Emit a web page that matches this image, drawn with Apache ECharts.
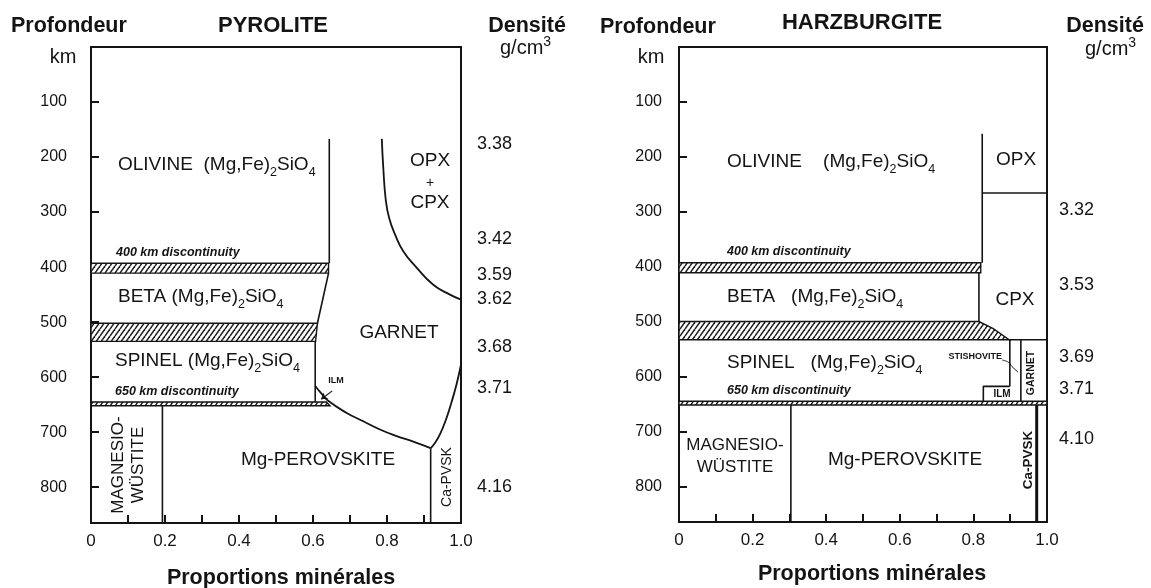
<!DOCTYPE html>
<html>
<head>
<meta charset="utf-8">
<script src="https://cdn.jsdelivr.net/npm/echarts@6/dist/echarts.min.js"></script>
<style>
  html, body { margin: 0; padding: 0; background: #fff; }
  #chart { width: 1151px; height: 588px; }
</style>
</head>
<body>
<div id="chart"></div>
<script>
// ---- shared scales -------------------------------------------------------
const depthMax = 865;                                   // km at the bottom of each column
const depthTicks = [100, 200, 300, 400, 500, 600, 700, 800];
const proportionTickValues = [0, 0.2, 0.4, 0.6, 0.8, 1.0];
const proportionTickLabels = ['0', '0.2', '0.4', '0.6', '0.8', '1.0'];

// ---- PYROLITE column (proportion, depth km) -------------------------------
const pyrDensityLabels = ['3.38', '3.42', '3.59', '3.62', '3.68', '3.71', '4.16'];
const pyrDensityDepths = [177, 349, 415, 458, 546, 620, 800];
const pyrBand400 = [[0, 393], [0.642, 393], [0.642, 411], [0, 411]];
const pyrBand500 = [[0, 502], [0.612, 502], [0.607, 535], [0, 535]];
const pyrBand650 = [[0, 645], [0.636, 645], [0.646, 652], [0, 652]];
const pyrOlivineEdge = [[0.644, 167], [0.644, 393]];
const pyrBetaEdge = [[0.642, 411], [0.612, 502]];
const pyrSpinelEdge = [[0.606, 535], [0.606, 645]];
const pyrOpxCpxCurve = [[0.786, 167], [0.790, 220], [0.797, 280], [0.806, 311], [0.822, 341],
  [0.844, 371], [0.880, 401], [0.925, 432], [0.970, 450], [1.0, 459]];
const pyrGarnetPvCurve = [[0.606, 616], [0.623, 630], [0.641, 643], [0.691, 665], [0.736, 680],
  [0.781, 695], [0.826, 707], [0.871, 717], [0.918, 729]];
const pyrGarnetCaPvCurve = [[0.918, 729], [0.927, 722], [0.943, 704], [0.961, 674], [0.975, 644],
  [0.988, 613], [1.0, 577]];
const pyrCaPvEdge = [[0.918, 729], [0.918, depthMax]];
const pyrMwEdge = [[0.193, 652], [0.193, depthMax]];
const pyrIlmArrow = [[0.652, 625], [0.622, 640]];

// ---- HARZBURGITE column ---------------------------------------------------
const harDensityLabels = ['3.32', '3.53', '3.69', '3.71', '4.10'];
const harDensityDepths = [297, 434, 564, 622, 713];
const harBand400 = [[0, 393], [0.82, 393], [0.82, 411], [0, 411]];
const harBand500 = [[0, 500], [0.815, 500], [0.854, 513], [0.897, 533], [0, 533]];
const harBand650 = [[0, 645], [1, 645], [1, 652], [0, 652]];
const harOlivineEdge = [[0.824, 158], [0.824, 393]];
const harOpxCpxEdge = [[0.824, 266], [1, 266]];
const harBetaEdge = [[0.815, 411], [0.815, 500]];
const harCpxGarnetEdge = [[0.897, 533], [1, 533]];
const harStishoviteEdge = [[0.899, 533], [0.899, 618]];
const harGarnetEdge = [[0.929, 533], [0.929, 645]];
const harIlmEdge = [[0.827, 645], [0.827, 618], [0.899, 618]];
const harMwEdge = [[0.304, 652], [0.304, depthMax]];
const harCaPvEdge = [[0.972, 652], [0.972, depthMax]];
const harStishoviteLeader = [[0.878, 570], [0.895, 574], [0.905, 582], [0.921, 592]];

// ---- styling --------------------------------------------------------------
const FONT = '"Liberation Sans", Arial, Helvetica, sans-serif';
const INK = '#141414';

// diagonal hatching used for the transition zones
function makeHatch() {
  const c = document.createElement('canvas');
  c.width = 5; c.height = 7;
  const g = c.getContext('2d');
  g.fillStyle = '#ffffff';
  g.fillRect(0, 0, 5, 7);
  g.strokeStyle = '#1c1c1c';
  g.lineWidth = 1.45;
  [-5, 0, 5].forEach(x0 => {
    g.beginPath(); g.moveTo(x0, 7); g.lineTo(x0 + 5, 0); g.stroke();
  });
  return c;
}
const hatch = { image: makeHatch(), repeat: 'repeat' };

const panels = [
  {
    box: { left: 91, top: 47, width: 370, height: 476 },
    depthMargin: 24, densityMargin: 16,
    densityLabels: pyrDensityLabels, densityDepths: pyrDensityDepths,
    bands: [pyrBand400, pyrBand500, pyrBand650],
    edges: [pyrOlivineEdge, pyrBetaEdge, pyrSpinelEdge, pyrCaPvEdge, pyrMwEdge],
    curves: [pyrOpxCpxCurve, pyrGarnetPvCurve, pyrGarnetCaPvCurve],
    thick: []
  },
  {
    box: { left: 679, top: 47, width: 368, height: 475 },
    depthMargin: 17, densityMargin: 12,
    densityLabels: harDensityLabels, densityDepths: harDensityDepths,
    bands: [harBand400, harBand500, harBand650],
    edges: [harOlivineEdge, harOpxCpxEdge, harBetaEdge, harCpxGarnetEdge, harStishoviteEdge,
      harGarnetEdge, harIlmEdge, harMwEdge],
    curves: [],
    thick: [harCaPvEdge]
  }
];

function proportionLabel(v) {
  const k = proportionTickValues.findIndex(t => Math.abs(t - v) < 1e-6);
  return k < 0 ? '' : proportionTickLabels[k];
}

const grids = [], xAxes = [], yAxes = [], series = [];
panels.forEach((p, i) => {
  grids.push(Object.assign({ show: true, borderColor: INK, borderWidth: 2,
    backgroundColor: 'transparent', containLabel: false, outerBoundsMode: 'none' }, p.box));

  xAxes.push({
    type: 'value', gridIndex: i, min: 0, max: 1, interval: 0.1,
    axisLine: { show: true, onZero: false, lineStyle: { color: INK, width: 2 } },
    axisTick: { show: true, inside: true, length: 8, lineStyle: { color: INK, width: 2 } },
    axisLabel: { margin: 10, fontSize: 17, color: INK, fontFamily: FONT, formatter: proportionLabel },
    splitLine: { show: false }
  });

  const depthIdx = yAxes.length;
  yAxes.push({
    type: 'value', gridIndex: i, position: 'left', min: 0, max: depthMax, interval: 100, inverse: true,
    axisLine: { show: true, onZero: false, lineStyle: { color: INK, width: 2 } },
    axisTick: { show: true, inside: true, length: 8, lineStyle: { color: INK, width: 2 } },
    axisLabel: { margin: p.depthMargin, fontSize: 16, color: INK, fontFamily: FONT,
      formatter: v => depthTicks.includes(v) ? String(v) : '' },
    splitLine: { show: false }
  });
  yAxes.push({
    type: 'value', gridIndex: i, position: 'right', min: 0, max: depthMax, inverse: true,
    axisLine: { show: false }, axisTick: { show: false }, splitLine: { show: false },
    axisLabel: {
      customValues: p.densityDepths, margin: p.densityMargin, fontSize: 18, color: INK,
      fontFamily: FONT, align: 'left',
      formatter: v => {
        const k = p.densityDepths.findIndex(d => Math.abs(d - v) < 1e-6);
        return k < 0 ? '' : p.densityLabels[k];
      }
    }
  });

  // hatched transition zones
  series.push({
    type: 'custom', xAxisIndex: i, yAxisIndex: depthIdx, silent: true, z: 2,
    data: p.bands.map((b, k) => [k, 0]),
    renderItem: (params, api) => ({
      type: 'polygon',
      shape: { points: p.bands[params.dataIndex].map(pt => api.coord(pt)) },
      style: { fill: hatch, stroke: INK, lineWidth: 1.4 }
    })
  });

  const lineSeries = (data, smooth, width) => ({
    type: 'line', xAxisIndex: i, yAxisIndex: depthIdx, data, smooth,
    symbol: 'none', showSymbol: false, silent: true, z: 3, clip: false,
    lineStyle: { color: INK, width }
  });
  p.edges.forEach(e => series.push(lineSeries(e, false, 1.6)));
  p.curves.forEach(c => series.push(lineSeries(c, 0.5, 1.8)));
  p.thick.forEach(e => series.push(lineSeries(e, false, 3)));
  if (i === 1) series.push(lineSeries(harStishoviteLeader, 0.4, 1));
  if (i === 0) {
    series.push({
      type: 'lines', coordinateSystem: 'cartesian2d', xAxisIndex: i, yAxisIndex: depthIdx,
      silent: true, z: 4, symbol: ['none', 'arrow'], symbolSize: 6,
      lineStyle: { color: INK, width: 1.1, opacity: 1 },
      data: [{ coords: pyrIlmArrow }]
    });
  }
});

// ---- text -----------------------------------------------------------------
function txt(text, x, y, o = {}) {
  return {
    type: 'text', x, y, rotation: o.rotation || 0, silent: true, z: 20,
    style: {
      text, fill: INK, fontFamily: FONT, fontSize: o.size || 19,
      fontWeight: o.weight || 'normal', fontStyle: o.italic ? 'italic' : 'normal',
      align: o.align || 'left', verticalAlign: 'middle',
      lineHeight: o.lineHeight, rich: o.rich
    }
  };
}
const richFormula = {
  t: { fontSize: 19, fontFamily: FONT, fill: INK, lineHeight: 28 },
  s: { fontSize: 12.5, fontFamily: FONT, fill: INK, lineHeight: 12, verticalAlign: 'bottom' }
};
const formula = (name, gap) => `{t|${name}${' '.repeat(gap)}(Mg,Fe)}{s|2}{t|SiO}{s|4}`;
const richUnit = {
  u: { fontSize: 20, fontFamily: FONT, fill: INK, lineHeight: 26 },
  p: { fontSize: 14, fontFamily: FONT, fill: INK, lineHeight: 12, verticalAlign: 'top' }
};
const UNIT = '{u|g/cm}{p|3}';
const B = 'bold';
const ROT = Math.PI / 2;

const graphic = [
  // PYROLITE headers
  txt('Profondeur', 11, 26, { size: 21.5, weight: B }),
  txt('PYROLITE', 273, 26, { size: 22, weight: B, align: 'center' }),
  txt('Densité', 527, 26, { size: 21.5, weight: B, align: 'center' }),
  txt(UNIT, 500, 48, { rich: richUnit }),
  txt('km', 63, 57, { size: 20, align: 'center' }),
  // PYROLITE fields
  txt(formula('OLIVINE', 2), 118, 165, { rich: richFormula }),
  txt('400 km discontinuity', 116, 253, { size: 12.5, weight: B, italic: true }),
  txt(formula('BETA', 1), 118, 297, { rich: richFormula }),
  txt(formula('SPINEL', 1), 115, 361, { rich: richFormula }),
  txt('650 km discontinuity', 115, 392, { size: 12.5, weight: B, italic: true }),
  txt('GARNET', 399, 333, { align: 'center' }),
  txt('OPX', 430, 161, { align: 'center' }),
  txt('+', 430, 183, { size: 14, align: 'center' }),
  txt('CPX', 430, 203, { align: 'center' }),
  txt('Mg-PEROVSKITE', 318, 460, { align: 'center' }),
  txt('MAGNESIO-\nWÜSTITE', 128, 465, { size: 17, align: 'center', lineHeight: 20, rotation: ROT }),
  txt('Ca-PVSK', 447, 477, { size: 14, align: 'center', rotation: ROT }),
  txt('ILM', 336, 381, { size: 9, weight: B, align: 'center' }),
  txt('Proportions minérales', 281, 578, { size: 21.5, weight: B, align: 'center' }),
  // HARZBURGITE headers
  txt('Profondeur', 600, 27, { size: 21.5, weight: B }),
  txt('HARZBURGITE', 862, 23, { size: 22, weight: B, align: 'center' }),
  txt('Densité', 1105, 26, { size: 21.5, weight: B, align: 'center' }),
  txt(UNIT, 1085, 49, { rich: richUnit }),
  txt('km', 651, 57, { size: 20, align: 'center' }),
  // HARZBURGITE fields
  txt(formula('OLIVINE', 4), 727, 162, { rich: richFormula }),
  txt('OPX', 1016, 160, { align: 'center' }),
  txt('400 km discontinuity', 727, 252, { size: 12.5, weight: B, italic: true }),
  txt(formula('BETA', 3), 727, 297, { rich: richFormula }),
  txt('CPX', 1015, 300, { align: 'center' }),
  txt(formula('SPINEL', 3), 727, 363, { rich: richFormula }),
  txt('650 km discontinuity', 727, 391, { size: 12.5, weight: B, italic: true }),
  txt('STISHOVITE', 1002, 357, { size: 9, weight: B, align: 'right' }),
  txt('GARNET', 1031, 373, { size: 10.5, weight: B, align: 'center', rotation: ROT }),
  txt('ILM', 1002, 394, { size: 10, weight: B, align: 'center' }),
  txt('MAGNESIO-\nWÜSTITE', 735, 456, { size: 17, align: 'center', lineHeight: 22 }),
  txt('Mg-PEROVSKITE', 905, 460, { align: 'center' }),
  txt('Ca-PVSK', 1028, 460, { size: 13.5, weight: B, align: 'center', rotation: ROT }),
  txt('Proportions minérales', 872, 574, { size: 21.5, weight: B, align: 'center' })
];

const chart = echarts.init(document.getElementById('chart'), null, { renderer: 'canvas' });
chart.setOption({
  animation: false,
  backgroundColor: '#ffffff',
  textStyle: { fontFamily: FONT },
  grid: grids,
  xAxis: xAxes,
  yAxis: yAxes,
  series,
  graphic
});
</script>
</body>
</html>
